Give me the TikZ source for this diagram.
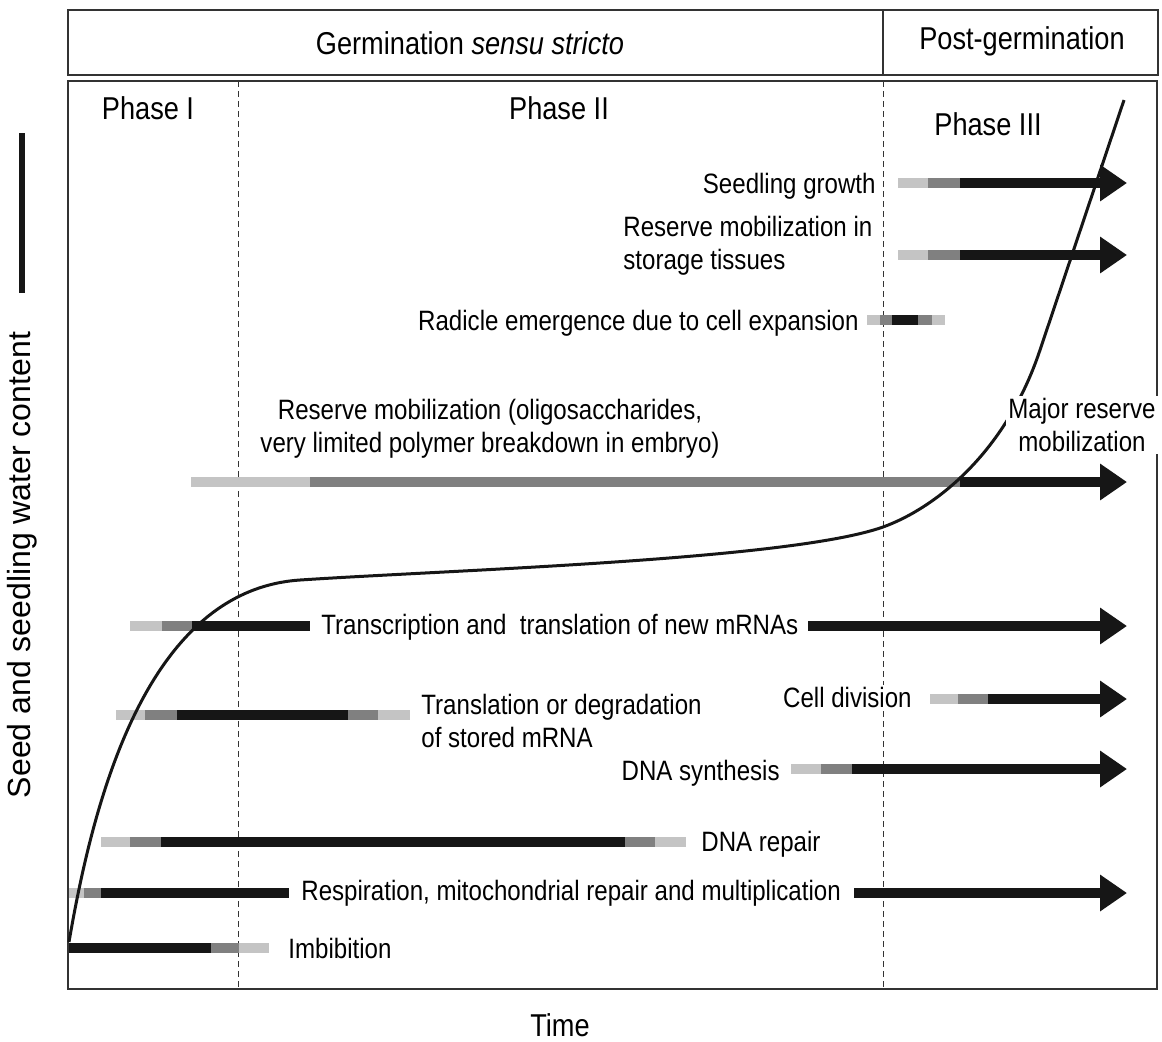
\documentclass[tikz,border=0pt]{standalone}
\usepackage{fontspec}
\setmainfont{Liberation Sans}[FakeStretch=0.86]
\newfontfamily\ylabfont{Liberation Sans}
\usetikzlibrary{arrows.meta}
\definecolor{barlight}{RGB}{196,196,196}
\definecolor{barmid}{RGB}{128,128,128}
\definecolor{bardark}{RGB}{22,22,22}

\begin{document}
\begin{tikzpicture}[x=0.5pt, y=-0.5pt,
        lbl/.style={font=\fontsize{14pt}{16.5pt}\selectfont, fill=white, inner sep=1pt,
            text height=10pt, text depth=0pt},
        lbltwo/.style={font=\fontsize{14pt}{16.5pt}\selectfont, fill=white, inner sep=1pt},
        hdr/.style={font=\fontsize{15.8pt}{18pt}\selectfont, inner sep=1pt},
        frame/.style={draw=black!80, line width=0.8pt},
        sep/.style={draw=black!80, dash pattern=on 3pt off 2pt, line width=0.5pt},
        lt/.style={draw=barlight, line width=5pt},
        md/.style={draw=barmid, line width=5pt},
        dk/.style={draw=bardark, line width=5pt},
        arr/.style={dk, -{Triangle[length=13.5pt, width=17.5pt]}},
        water/.style={draw=bardark, line width=1.5pt}]
    \useasboundingbox (0,0) rectangle (1162,1041);
    % header
    \draw[frame] (68,10) rectangle (1158,75);
    \draw[frame] (883,10) -- (883,75);
    \node[hdr] (gss) at (470,43) {Germination \textit{sensu stricto}};
    \node[hdr] (postg) at (1022,41) {Post-germination};
    % frame and phases
    \draw[frame] (68,81) rectangle (1157,989);
    \draw[sep] (238,81) -- (238,989);
    \draw[sep] (883,81) -- (883,989);
    \node[hdr] (ph1) at (148,108) {Phase I};
    \node[hdr] (ph2) at (559,108) {Phase II};
    \node[hdr] (ph3) at (988,124) {Phase III};
    % axes
    \draw[dk, line width=3pt] (22,133) -- (22,293);
    \node[hdr, rotate=90, font=\ylabfont\fontsize{16pt}{18pt}\selectfont] (ylab) at (22,565)
        {Seed and seedling water content};
    \node[hdr] (time) at (560,1025) {Time};

    % bars
    \draw[lt] (898,183) -- (928,183);
    \draw[md] (928,183) -- (960,183);
    \draw[arr] (960,183) -- (1127,183);

    \draw[lt] (898,255) -- (928,255);
    \draw[md] (928,255) -- (960,255);
    \draw[arr] (960,255) -- (1127,255);

    \draw[lt] (867,320) -- (880,320);
    \draw[md] (880,320) -- (892,320);
    \draw[dk] (892,320) -- (918,320);
    \draw[md] (918,320) -- (932,320);
    \draw[lt] (932,320) -- (945,320);

    \draw[lt] (191,482) -- (310,482);
    \draw[md] (310,482) -- (960,482);
    \draw[arr] (960,482) -- (1127,482);

    \draw[lt] (130,626) -- (162,626);
    \draw[md] (162,626) -- (192,626);
    \draw[dk] (192,626) -- (310,626);
    \draw[arr] (808,626) -- (1127,626);

    \draw[lt] (116,715) -- (145,715);
    \draw[md] (145,715) -- (177,715);
    \draw[dk] (177,715) -- (348,715);
    \draw[md] (348,715) -- (378,715);
    \draw[lt] (378,715) -- (410,715);

    \draw[lt] (930,699) -- (958,699);
    \draw[md] (958,699) -- (988,699);
    \draw[arr] (988,699) -- (1127,699);

    \draw[lt] (791,769) -- (821,769);
    \draw[md] (821,769) -- (852,769);
    \draw[arr] (852,769) -- (1127,769);

    \draw[lt] (101,842) -- (130,842);
    \draw[md] (130,842) -- (161,842);
    \draw[dk] (161,842) -- (625,842);
    \draw[md] (625,842) -- (655,842);
    \draw[lt] (655,842) -- (686,842);

    \draw[lt] (69,893) -- (84,893);
    \draw[md] (84,893) -- (101,893);
    \draw[dk] (101,893) -- (289,893);
    \draw[arr] (854,893) -- (1127,893);

    \draw[dk] (69,948) -- (211,948);
    \draw[md] (211,948) -- (239,948);
    \draw[lt] (239,948) -- (269,948);

    % water uptake curve
    \draw[water] (69,942) .. controls (95,790) and (150,590) .. (300,580)
        .. controls (450,570) and (790,560) .. (883,527)
        .. controls (933,509) and (1005,455) .. (1040,350) -- (1124,100);

    % labels
    \node[lbl, anchor=east] (grow) at (878,183) {Seedling growth};
    \node[lbltwo, anchor=west, align=left] (store) at (621,246)
        {Reserve mobilization in\\ storage tissues};
    \node[lbl, anchor=east] (radicle) at (861,320) {Radicle emergence due to cell expansion};
    \node[lbltwo, align=center] (oligo) at (490,429)
        {Reserve mobilization (oligosaccharides,\\ very limited polymer breakdown in embryo)};
    \node[lbltwo, align=center] (major) at (1082,425) {Major reserve\\ mobilization};
    \node[lbl, anchor=west] (transc) at (319,624) {Transcription and\ \ translation of new mRNAs};
    \node[lbltwo, anchor=west, align=left] (stored) at (419,721)
        {Translation or degradation\\ of stored mRNA};
    \node[lbl, anchor=east] (celldiv) at (914,697) {Cell division};
    \node[lbl, anchor=east] (dnasyn) at (782,770) {DNA synthesis};
    \node[lbl, anchor=west] (repair) at (699,841) {DNA repair};
    \node[lbl, anchor=west] (resp) at (299,890) {Respiration, mitochondrial repair and multiplication};
    \node[lbl, anchor=west] (imbib) at (286,948) {Imbibition};
\end{tikzpicture}
\end{document}
